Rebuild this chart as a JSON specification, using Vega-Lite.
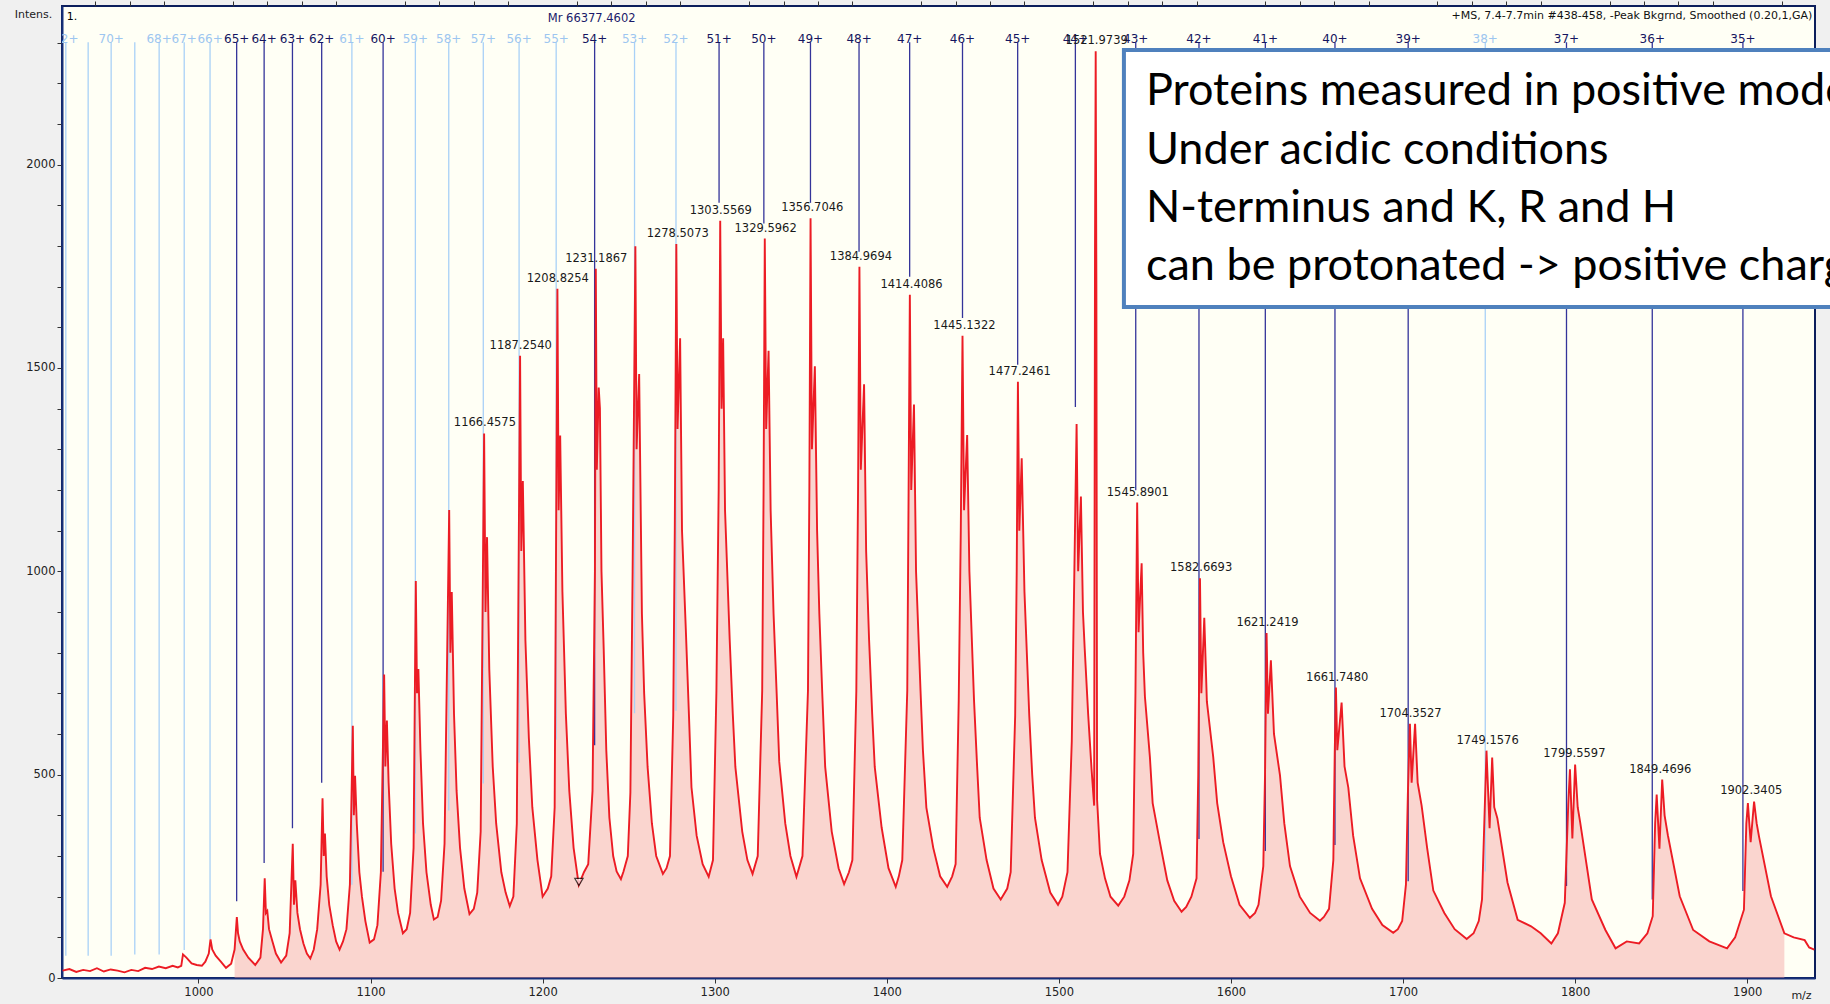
{
  "$schema": "https://vega.github.io/schema/vega-lite/v6.json",
  "width": 1753,
  "height": 972,
  "autosize": {"type": "none"},
  "padding": {"left": 62, "top": 6, "right": 15, "bottom": 26},
  "background": "#F0F0F0",
  "config": {
    "view": {"fill": "#FFFFF5", "stroke": "#0C1E5C", "strokeWidth": 2},
    "font": "DejaVu Sans"
  },
  "resolve": {"axis": {"x": "independent"}},
  "data": {"values": [{"k": 1}]},
  "datasets": {
    "spec": [
      {"mz":921,"i":18},{"mz":925,"i":22},{"mz":929,"i":15},{"mz":933,"i":20},{"mz":937,"i":17},{"mz":941,"i":24},{"mz":945,"i":16},{"mz":949,"i":21},{"mz":953,"i":18},{"mz":957,"i":14},{"mz":961,"i":20},{"mz":965,"i":17},{"mz":969,"i":25},{"mz":973,"i":22},{"mz":977,"i":28},{"mz":981,"i":24},{"mz":985,"i":30},{"mz":988,"i":26},{"mz":990,"i":30},{"mz":991,"i":58},{"mz":993,"i":50},{"mz":996,"i":36},{"mz":999,"i":32},{"mz":1002,"i":30},{"mz":1004,"i":40},{"mz":1006,"i":60},{"mz":1007,"i":95},{"mz":1008,"i":70},{"mz":1010,"i":55},{"mz":1013,"i":40},{"mz":1016,"i":25},{"mz":1019,"i":35},
      {"mz":1021,"i":70},{"mz":1022.3,"i":150},{"mz":1023,"i":110},{"mz":1024,"i":90},{"mz":1026,"i":70},{"mz":1029,"i":50},{"mz":1033,"i":32},{"mz":1036,"i":50},{"mz":1037.5,"i":120},{"mz":1038.5,"i":245},{"mz":1039.2,"i":160},{"mz":1040,"i":165},{"mz":1041,"i":120},{"mz":1043,"i":90},{"mz":1045,"i":60},{"mz":1048,"i":38},{"mz":1051,"i":55},{"mz":1053,"i":110},{"mz":1054.8,"i":330},{"mz":1055.5,"i":180},{"mz":1056.3,"i":240},{"mz":1057.5,"i":160},{"mz":1059,"i":120},{"mz":1061,"i":85},{"mz":1063,"i":60},{"mz":1065,"i":48},{"mz":1067,"i":70},{"mz":1069,"i":120},{"mz":1071,"i":230},{"mz":1072.1,"i":442},{"mz":1072.8,"i":300},{"mz":1073.5,"i":355},{"mz":1074.5,"i":250},{"mz":1076,"i":180},{"mz":1078,"i":130},{"mz":1080,"i":90},{"mz":1082,"i":70},{"mz":1084,"i":90},{"mz":1086,"i":120},{"mz":1088,"i":230},{"mz":1089.7,"i":620},{"mz":1090.3,"i":400},{"mz":1091,"i":497},{"mz":1092,"i":380},{"mz":1093.5,"i":260},{"mz":1095,"i":200},{"mz":1097,"i":140},{"mz":1099.5,"i":87},{"mz":1102,"i":95},{"mz":1104,"i":130},{"mz":1106,"i":260},{"mz":1107.9,"i":746},{"mz":1108.6,"i":520},{"mz":1109.5,"i":633},{"mz":1110.5,"i":480},{"mz":1112,"i":330},{"mz":1114,"i":220},{"mz":1116,"i":160},{"mz":1118.8,"i":110},{"mz":1121,"i":120},{"mz":1123,"i":160},{"mz":1125,"i":320},{"mz":1126.3,"i":976},{"mz":1127,"i":700},{"mz":1127.8,"i":760},{"mz":1129,"i":560},{"mz":1130.5,"i":380},{"mz":1132.5,"i":260},{"mz":1135,"i":180},{"mz":1136.8,"i":144},{"mz":1139,"i":150},{"mz":1141,"i":190},{"mz":1143,"i":330},{"mz":1145.7,"i":1151},{"mz":1146.4,"i":800},{"mz":1147.2,"i":949},{"mz":1148.5,"i":650},{"mz":1150,"i":460},{"mz":1152,"i":320},{"mz":1154.5,"i":220},{"mz":1157.5,"i":157},{"mz":1160,"i":170},{"mz":1162,"i":210},{"mz":1164,"i":360},{"mz":1166,"i":1339},{"mz":1166.8,"i":900},{"mz":1167.7,"i":1084},{"mz":1169,"i":760},{"mz":1171,"i":520},{"mz":1173,"i":380},{"mz":1176,"i":260},{"mz":1178.5,"i":210},{"mz":1180.9,"i":177},{"mz":1183,"i":200},{"mz":1185,"i":380},{"mz":1186.9,"i":1530},{"mz":1187.6,"i":1050},{"mz":1188.5,"i":1222},{"mz":1190,"i":830},{"mz":1192,"i":590},{"mz":1194,"i":420},{"mz":1197,"i":290},{"mz":1200,"i":200},{"mz":1203,"i":220},{"mz":1205,"i":250},{"mz":1207,"i":420},{"mz":1208.6,"i":1695},{"mz":1209.3,"i":1150},{"mz":1210.2,"i":1334},{"mz":1211.5,"i":950},{"mz":1213.5,"i":650},{"mz":1215.5,"i":460},{"mz":1218,"i":320},{"mz":1221,"i":229},{"mz":1224,"i":260},{"mz":1226.5,"i":280},{"mz":1229,"i":460},{"mz":1230.4,"i":1000},{"mz":1230.9,"i":1744},{"mz":1231.5,"i":1250},{"mz":1232.6,"i":1452},{"mz":1233.3,"i":1400},{"mz":1234.2,"i":1000},{"mz":1235.5,"i":808},{"mz":1237,"i":560},{"mz":1238.8,"i":394},{"mz":1241,"i":300},{"mz":1243,"i":262},{"mz":1245.5,"i":243},{"mz":1247,"i":262},{"mz":1249.5,"i":300},{"mz":1251,"i":456},{"mz":1252.3,"i":1000},{"mz":1253.9,"i":1799},{"mz":1254.6,"i":1300},{"mz":1256.1,"i":1485},{"mz":1257,"i":1150},{"mz":1257.7,"i":896},{"mz":1259,"i":700},{"mz":1261,"i":519},{"mz":1263.5,"i":380},{"mz":1266,"i":300},{"mz":1269.9,"i":256},{"mz":1272,"i":270},{"mz":1274,"i":300},{"mz":1275.9,"i":645},{"mz":1276.8,"i":1100},{"mz":1277.7,"i":1805},{"mz":1278.4,"i":1350},{"mz":1279.9,"i":1573},{"mz":1281,"i":1100},{"mz":1283.2,"i":858},{"mz":1285,"i":650},{"mz":1286.5,"i":469},{"mz":1289.5,"i":350},{"mz":1293,"i":280},{"mz":1296.5,"i":249},{"mz":1299,"i":290},{"mz":1301,"i":707},{"mz":1302.3,"i":1200},{"mz":1303.2,"i":1862},{"mz":1304,"i":1400},{"mz":1304.9,"i":1573},{"mz":1306,"i":1150},{"mz":1308.7,"i":833},{"mz":1310.5,"i":650},{"mz":1312,"i":519},{"mz":1316,"i":360},{"mz":1319,"i":290},{"mz":1322,"i":256},{"mz":1325,"i":300},{"mz":1327.6,"i":707},{"mz":1328.4,"i":1200},{"mz":1329.1,"i":1818},{"mz":1329.9,"i":1350},{"mz":1331.3,"i":1542},{"mz":1332.5,"i":1150},{"mz":1334.2,"i":896},{"mz":1336,"i":700},{"mz":1337.5,"i":532},{"mz":1341,"i":380},{"mz":1344,"i":300},{"mz":1347.5,"i":249},{"mz":1351,"i":300},{"mz":1354.2,"i":707},{"mz":1355,"i":1200},{"mz":1355.7,"i":1868},{"mz":1356.5,"i":1300},{"mz":1358.2,"i":1504},{"mz":1359.5,"i":1100},{"mz":1360.8,"i":896},{"mz":1362.5,"i":700},{"mz":1364.2,"i":519},{"mz":1368,"i":360},{"mz":1372,"i":270},{"mz":1375.2,"i":231},{"mz":1378,"i":260},{"mz":1380,"i":290},{"mz":1382.3,"i":707},{"mz":1383.3,"i":1200},{"mz":1384.1,"i":1749},{"mz":1384.9,"i":1250},{"mz":1386.8,"i":1460},{"mz":1388,"i":1050},{"mz":1389.7,"i":833},{"mz":1391.5,"i":650},{"mz":1393,"i":519},{"mz":1397,"i":370},{"mz":1401,"i":270},{"mz":1405.2,"i":224},{"mz":1407,"i":250},{"mz":1409,"i":290},{"mz":1411.9,"i":707},{"mz":1412.6,"i":1150},{"mz":1413.4,"i":1680},{"mz":1414.2,"i":1200},{"mz":1415.8,"i":1410},{"mz":1417,"i":1000},{"mz":1419.6,"i":707},{"mz":1421,"i":560},{"mz":1423,"i":419},{"mz":1427,"i":320},{"mz":1431,"i":250},{"mz":1435.1,"i":224},{"mz":1438,"i":250},{"mz":1440,"i":280},{"mz":1441.8,"i":682},{"mz":1443,"i":1100},{"mz":1444,"i":1579},{"mz":1444.9,"i":1150},{"mz":1446.7,"i":1335},{"mz":1448,"i":1000},{"mz":1450.7,"i":682},{"mz":1452.5,"i":520},{"mz":1454,"i":394},{"mz":1458,"i":290},{"mz":1462,"i":220},{"mz":1466.2,"i":193},{"mz":1470,"i":220},{"mz":1472,"i":260},{"mz":1474.6,"i":645},{"mz":1475.5,"i":1000},{"mz":1476.2,"i":1466},{"mz":1477,"i":1100},{"mz":1478.4,"i":1278},{"mz":1480,"i":950},{"mz":1482.8,"i":645},{"mz":1484.5,"i":500},{"mz":1486.1,"i":394},{"mz":1490,"i":290},{"mz":1495,"i":210},{"mz":1499.5,"i":180},{"mz":1502,"i":200},{"mz":1505,"i":260},{"mz":1507.5,"i":582},{"mz":1509,"i":1000},{"mz":1510.3,"i":1362},{"mz":1511.2,"i":1000},{"mz":1512.8,"i":1184},{"mz":1514,"i":900},{"mz":1515,"i":811},{"mz":1517,"i":650},{"mz":1519,"i":513},{"mz":1520.5,"i":424},{"mz":1521,"i":1800},{"mz":1521.4,"i":2279},{"mz":1521.8,"i":1700},{"mz":1522.2,"i":439},{"mz":1523.9,"i":305},{"mz":1526.8,"i":245},{"mz":1530,"i":200},{"mz":1534.5,"i":178},{"mz":1538,"i":200},{"mz":1541,"i":240},{"mz":1543.2,"i":305},{"mz":1544.5,"i":700},{"mz":1545.5,"i":1169},{"mz":1546.3,"i":850},{"mz":1548.1,"i":1020},{"mz":1549,"i":800},{"mz":1550,"i":692},{"mz":1552.9,"i":543},{"mz":1554.5,"i":430},{"mz":1558.7,"i":334},{"mz":1563,"i":240},{"mz":1567,"i":190},{"mz":1571.3,"i":163},{"mz":1574,"i":175},{"mz":1577,"i":200},{"mz":1580,"i":245},{"mz":1581,"i":500},{"mz":1582,"i":983},{"mz":1582.8,"i":700},{"mz":1584.5,"i":886},{"mz":1586,"i":680},{"mz":1589.7,"i":543},{"mz":1592,"i":430},{"mz":1595.5,"i":334},{"mz":1600,"i":250},{"mz":1605,"i":180},{"mz":1611,"i":148},{"mz":1614,"i":160},{"mz":1616,"i":180},{"mz":1618.8,"i":275},{"mz":1619.8,"i":500},{"mz":1620.7,"i":848},{"mz":1621.5,"i":650},{"mz":1623.2,"i":781},{"mz":1625,"i":600},{"mz":1628.5,"i":498},{"mz":1631,"i":380},{"mz":1634.3,"i":275},{"mz":1640,"i":200},{"mz":1646,"i":160},{"mz":1651.7,"i":141},{"mz":1654,"i":150},{"mz":1657,"i":170},{"mz":1659.5,"i":290},{"mz":1660.3,"i":550},{"mz":1661,"i":714},{"mz":1661.8,"i":560},{"mz":1664.3,"i":677},{"mz":1666,"i":520},{"mz":1668.2,"i":468},{"mz":1671,"i":350},{"mz":1675,"i":245},{"mz":1682,"i":170},{"mz":1688,"i":130},{"mz":1694.3,"i":111},{"mz":1697,"i":120},{"mz":1699.5,"i":140},{"mz":1701.7,"i":230},{"mz":1702.8,"i":450},{"mz":1704,"i":625},{"mz":1705,"i":480},{"mz":1707,"i":625},{"mz":1708.5,"i":480},{"mz":1710.8,"i":424},{"mz":1714,"i":320},{"mz":1717.6,"i":215},{"mz":1724,"i":160},{"mz":1730,"i":120},{"mz":1737,"i":96},{"mz":1741,"i":110},{"mz":1744,"i":140},{"mz":1745.9,"i":193},{"mz":1747.5,"i":420},{"mz":1748.5,"i":559},{"mz":1750.3,"i":368},{"mz":1751.8,"i":542},{"mz":1753,"i":420},{"mz":1754.8,"i":393},{"mz":1760.7,"i":235},{"mz":1766.6,"i":143},{"mz":1774.4,"i":127},{"mz":1780,"i":110},{"mz":1786.2,"i":85},{"mz":1790,"i":110},{"mz":1794,"i":185},{"mz":1796,"i":426},{"mz":1797,"i":513},{"mz":1798.4,"i":343},{"mz":1800,"i":525},{"mz":1801.5,"i":420},{"mz":1802.9,"i":384},{"mz":1809.7,"i":193},{"mz":1817.6,"i":118},{"mz":1823.5,"i":73},{"mz":1830,"i":90},{"mz":1837.2,"i":85},{"mz":1842,"i":110},{"mz":1845.1,"i":152},{"mz":1846.5,"i":380},{"mz":1847.4,"i":451},{"mz":1849,"i":318},{"mz":1850.6,"i":488},{"mz":1852,"i":400},{"mz":1853.9,"i":351},{"mz":1860.8,"i":201},{"mz":1868.6,"i":118},{"mz":1878,"i":90},{"mz":1888.3,"i":73},{"mz":1893,"i":100},{"mz":1898.1,"i":168},{"mz":1899.5,"i":380},{"mz":1900.4,"i":430},{"mz":1902,"i":334},{"mz":1904,"i":434},{"mz":1905.5,"i":380},{"mz":1906.9,"i":347},{"mz":1913.8,"i":201},{"mz":1921.6,"i":110},{"mz":1927,"i":100},{"mz":1933.4,"i":93},{"mz":1936,"i":75},{"mz":1939,"i":70}
    ],
    "charges": [
      {"z":"72+","mz":922.92,"bottom":55,"kind":"light","show":true},
      {"z":"71+","mz":935.90,"bottom":55,"kind":"light","show":false},
      {"z":"70+","mz":949.26,"bottom":55,"kind":"light","show":true},
      {"z":"69+","mz":963.00,"bottom":58,"kind":"light","show":false},
      {"z":"68+","mz":977.15,"bottom":58,"kind":"light","show":true},
      {"z":"67+","mz":991.72,"bottom":69,"kind":"light","show":true},
      {"z":"66+","mz":1006.73,"bottom":96,"kind":"light","show":true},
      {"z":"65+","mz":1022.20,"bottom":189,"kind":"dark","show":true},
      {"z":"64+","mz":1038.16,"bottom":283,"kind":"dark","show":true},
      {"z":"63+","mz":1054.62,"bottom":368,"kind":"dark","show":true},
      {"z":"62+","mz":1071.61,"bottom":480,"kind":"dark","show":true},
      {"z":"61+","mz":1089.16,"bottom":229,"kind":"light","show":true},
      {"z":"60+","mz":1107.30,"bottom":261,"kind":"dark","show":true},
      {"z":"59+","mz":1126.05,"bottom":355,"kind":"light","show":true},
      {"z":"58+","mz":1145.45,"bottom":412,"kind":"light","show":true},
      {"z":"57+","mz":1165.52,"bottom":478,"kind":"light","show":true},
      {"z":"56+","mz":1186.32,"bottom":529,"kind":"light","show":true},
      {"z":"55+","mz":1207.87,"bottom":586,"kind":"light","show":true},
      {"z":"54+","mz":1230.22,"bottom":572,"kind":"dark","show":true},
      {"z":"53+","mz":1253.41,"bottom":651,"kind":"light","show":true},
      {"z":"52+","mz":1277.50,"bottom":657,"kind":"light","show":true},
      {"z":"51+","mz":1302.53,"bottom":1906,"kind":"dark","show":true},
      {"z":"50+","mz":1328.56,"bottom":1855,"kind":"dark","show":true},
      {"z":"49+","mz":1355.65,"bottom":1906,"kind":"dark","show":true},
      {"z":"48+","mz":1383.87,"bottom":1786,"kind":"dark","show":true},
      {"z":"47+","mz":1413.29,"bottom":1724,"kind":"dark","show":true},
      {"z":"46+","mz":1444.00,"bottom":1623,"kind":"dark","show":true},
      {"z":"45+","mz":1476.06,"bottom":1508,"kind":"dark","show":true},
      {"z":"44+","mz":1509.59,"bottom":1404,"kind":"dark","show":true},
      {"z":"43+","mz":1544.67,"bottom":1199,"kind":"dark","show":true},
      {"z":"42+","mz":1581.42,"bottom":342,"kind":"dark","show":true},
      {"z":"41+","mz":1619.97,"bottom":312,"kind":"dark","show":true},
      {"z":"40+","mz":1660.44,"bottom":327,"kind":"dark","show":true},
      {"z":"39+","mz":1702.99,"bottom":238,"kind":"dark","show":true},
      {"z":"38+","mz":1747.78,"bottom":262,"kind":"light","show":true},
      {"z":"37+","mz":1794.99,"bottom":226,"kind":"dark","show":true},
      {"z":"36+","mz":1844.83,"bottom":193,"kind":"dark","show":true},
      {"z":"35+","mz":1897.51,"bottom":214,"kind":"dark","show":true}
    ],
    "peaks": [
      {"mz":1166.4575,"lab":"1166.4575","apex":1339},
      {"mz":1187.2540,"lab":"1187.2540","apex":1530},
      {"mz":1208.8254,"lab":"1208.8254","apex":1695},
      {"mz":1231.1867,"lab":"1231.1867","apex":1744},
      {"mz":1278.5073,"lab":"1278.5073","apex":1805},
      {"mz":1303.5569,"lab":"1303.5569","apex":1862},
      {"mz":1329.5962,"lab":"1329.5962","apex":1818},
      {"mz":1356.7046,"lab":"1356.7046","apex":1868},
      {"mz":1384.9694,"lab":"1384.9694","apex":1749},
      {"mz":1414.4086,"lab":"1414.4086","apex":1680},
      {"mz":1445.1322,"lab":"1445.1322","apex":1579},
      {"mz":1477.2461,"lab":"1477.2461","apex":1466},
      {"mz":1521.9739,"lab":"1521.9739","apex":2279},
      {"mz":1545.8901,"lab":"1545.8901","apex":1169},
      {"mz":1582.6693,"lab":"1582.6693","apex":983},
      {"mz":1621.2419,"lab":"1621.2419","apex":848},
      {"mz":1661.7480,"lab":"1661.7480","apex":714},
      {"mz":1704.3527,"lab":"1704.3527","apex":625},
      {"mz":1749.1576,"lab":"1749.1576","apex":559},
      {"mz":1799.5597,"lab":"1799.5597","apex":525},
      {"mz":1849.4696,"lab":"1849.4696","apex":488},
      {"mz":1902.3405,"lab":"1902.3405","apex":434}
    ],
    "notes": [
      {"line":"Proteins measured in positive mode","y":2181},
      {"line":"Under acidic conditions","y":2037},
      {"line":"N-terminus and K, R and H","y":1894},
      {"line":"can be protonated -> positive charge","y":1751}
    ]
  },
  "layer": [
    {
      "data": {"name": "spec"},
      "transform": [{"filter": "datum.mz >= 1020 && datum.mz <= 1922"}],
      "mark": {"type": "area", "color": "#F39A9A", "opacity": 0.42, "interpolate": "linear"},
      "encoding": {
        "x": {"field": "mz", "type": "quantitative", "scale": {"domain": [920.7, 1939.4], "nice": false, "zero": false},
          "axis": {"values": [1000,1100,1200,1300,1400,1500,1600,1700,1800,1900],
            "format": "d", "labelOverlap": false,
            "grid": false, "domainColor": "#16307A", "domainWidth": 2, "tickColor": "#333333", "tickSize": 5,
            "labelFont": "DejaVu Sans", "labelFontSize": 11.5, "labelColor": "#222222", "labelPadding": 3, "labelFlush": false,
            "title": "m/z", "titleFont": "DejaVu Sans", "titleFontSize": 11, "titleFontWeight": "normal", "titleColor": "#222222",
            "titleX": 1739, "titleY": 17, "titleAlign": "center", "titleBaseline": "middle"}},
        "y": {"field": "i", "type": "quantitative", "scale": {"domain": [0, 2390], "nice": false},
          "axis": {"values": [0,100,200,300,400,500,600,700,800,900,1000,1100,1200,1300,1400,1500,1600,1700,1800,1900,2000,2100,2200,2300],
            "labelExpr": "datum.value % 500 === 0 ? datum.label : ''", "format": "d", "labelOverlap": false,
            "grid": false, "domainColor": "#16307A", "domainWidth": 2, "tickColor": "#333333", "tickSize": 5,
            "labelFont": "DejaVu Sans", "labelFontSize": 11.5, "labelColor": "#222222", "labelPadding": 2,
            "title": "Intens.", "titleAngle": 0, "titleFont": "DejaVu Sans", "titleFontSize": 11, "titleFontWeight": "normal", "titleColor": "#222222",
            "titleX": -29, "titleY": 8, "titleAlign": "center", "titleBaseline": "middle"}}
      }
    },
    {
      "data": {"name": "charges"},
      "mark": {"type": "rule", "strokeWidth": 1.3},
      "encoding": {
        "x": {"field": "mz", "type": "quantitative",
          "axis": {"values": [940,960,980,1020,1040,1060,1080,1120,1140,1160,1180,1220,1240,1260,1280,1320,1340,1360,1380,1420,1440,1460,1480,1520,1540,1560,1580,1620,1640,1660,1680,1720,1740,1760,1780,1820,1840,1860,1880,1920],
            "labels": false, "domain": false, "grid": false, "ticks": true, "tickSize": 5, "tickColor": "#333333", "title": null}},
        "y": {"field": "bottom", "type": "quantitative"},
        "y2": {"datum": 2301},
        "color": {"condition": {"test": "datum.kind === 'dark'", "value": "#34349A"}, "value": "#A9D1F7"}
      }
    },
    {
      "data": {"name": "spec"},
      "mark": {"type": "line", "color": "#EC1C24", "strokeWidth": 1.9, "interpolate": "linear"},
      "encoding": {
        "x": {"field": "mz", "type": "quantitative", "axis": null},
        "y": {"field": "i", "type": "quantitative"}
      }
    },
    {
      "data": {"name": "charges"},
      "transform": [{"filter": "datum.show"}],
      "mark": {"type": "text", "font": "DejaVu Sans", "fontSize": 12, "baseline": "middle", "align": "center", "clip": true, "y": 33},
      "encoding": {
        "x": {"field": "mz", "type": "quantitative", "axis": null},
        "text": {"field": "z"},
        "color": {"condition": {"test": "datum.kind === 'dark'", "value": "#151560"}, "value": "#9DC6F0"}
      }
    },
    {
      "data": {"name": "peaks"},
      "mark": {"type": "text", "font": "DejaVu Sans", "fontSize": 11.5, "baseline": "middle", "align": "center", "dy": -10, "color": "#1A1A1A"},
      "encoding": {
        "x": {"field": "mz", "type": "quantitative", "axis": null},
        "y": {"field": "apex", "type": "quantitative"},
        "text": {"field": "lab"}
      }
    },
    {
      "mark": {"type": "point", "shape": "triangle-down", "size": 70, "filled": true, "fill": "#FFFFFF", "stroke": "#000000", "strokeWidth": 1.2},
      "encoding": {
        "x": {"datum": 1221.1, "type": "quantitative", "axis": null},
        "y": {"datum": 236, "type": "quantitative"}
      }
    },
    {
      "mark": {"type": "text", "font": "DejaVu Sans", "fontSize": 11, "align": "left", "baseline": "middle", "color": "#000000"},
      "encoding": {
        "x": {"datum": 923.5, "type": "quantitative", "axis": null},
        "y": {"datum": 2364, "type": "quantitative"},
        "text": {"value": "1."}
      }
    },
    {
      "mark": {"type": "text", "font": "DejaVu Sans", "fontSize": 11.5, "align": "center", "baseline": "middle", "color": "#1A1A6A"},
      "encoding": {
        "x": {"datum": 1228.5, "type": "quantitative", "axis": null},
        "y": {"datum": 2359, "type": "quantitative"},
        "text": {"value": "Mr 66377.4602"}
      }
    },
    {
      "mark": {"type": "text", "font": "DejaVu Sans", "fontSize": 11, "align": "right", "baseline": "middle", "color": "#111111"},
      "encoding": {
        "x": {"datum": 1937.8, "type": "quantitative", "axis": null},
        "y": {"datum": 2365, "type": "quantitative"},
        "text": {"value": "+MS, 7.4-7.7min #438-458, -Peak Bkgrnd, Smoothed (0.20,1,GA)"}
      }
    },
    {
      "mark": {"type": "rect", "fill": "#FFFFFF", "stroke": "#4F81BD", "strokeWidth": 4, "clip": false},
      "encoding": {
        "x": {"datum": 1537.8, "type": "quantitative", "axis": null},
        "x2": {"datum": 1965},
        "y": {"datum": 2282, "type": "quantitative"},
        "y2": {"datum": 1650}
      }
    },
    {
      "data": {"name": "notes"},
      "mark": {"type": "text", "font": "Lato", "fontSize": 45, "align": "left", "baseline": "middle", "color": "#000000", "clip": false},
      "encoding": {
        "x": {"datum": 1550.6, "type": "quantitative", "axis": null},
        "y": {"field": "y", "type": "quantitative"},
        "text": {"field": "line"}
      }
    }
  ]
}
